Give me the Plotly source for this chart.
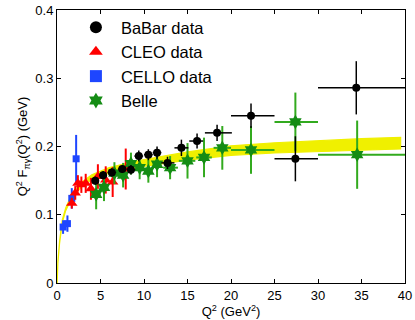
import plotly.graph_objects as go

# Yellow theory band
band_q2 = [0.02, 0.1, 0.3, 0.6, 1.0, 1.5, 2.0, 3.0, 4.0, 6.0, 8.0, 10.0, 15.0, 20.0, 25.0, 30.0, 35.0, 39.5]
band_mid = [0.0, 0.03, 0.06, 0.09, 0.108, 0.122, 0.132, 0.146, 0.155, 0.165, 0.171, 0.176, 0.186, 0.194, 0.198, 0.201, 0.203, 0.205]
band_half = [0.0005, 0.001, 0.0015, 0.002, 0.002, 0.0025, 0.003, 0.003, 0.0035, 0.004, 0.0045, 0.005, 0.006, 0.007, 0.0075, 0.008, 0.0085, 0.0085]

# BaBar
babar_q2 = [4.4, 5.3, 6.3, 7.5, 8.5, 9.4, 10.5, 11.5, 12.7, 14.3, 16.1, 18.4, 22.3, 27.4, 34.4]
babar_f = [0.150, 0.158, 0.162, 0.167, 0.166, 0.186, 0.188, 0.191, 0.176, 0.198, 0.208, 0.220, 0.245, 0.182, 0.286]
babar_err = [0.006, 0.006, 0.006, 0.006, 0.007, 0.008, 0.008, 0.009, 0.009, 0.012, 0.011, 0.012, 0.018, 0.033, 0.039]
babar_xm = [0.4, 0.4, 0.5, 0.5, 0.5, 0.5, 0.5, 0.5, 0.7, 0.8, 0.9, 1.4, 2.3, 2.4, 4.4]
babar_xp = [0.4, 0.4, 0.5, 0.5, 0.5, 0.5, 0.5, 0.5, 0.8, 0.8, 0.7, 1.7, 2.7, 2.6, 5.6]

# CLEO
cleo_q2 = [1.7, 2.1, 2.4, 2.8, 3.3, 3.9, 4.7, 5.6, 6.4, 7.9]
cleo_f = [0.117, 0.132, 0.146, 0.144, 0.146, 0.138, 0.156, 0.151, 0.148, 0.167]
cleo_err = [0.008, 0.010, 0.012, 0.012, 0.014, 0.016, 0.018, 0.020, 0.022, 0.030]

# CELLO
cello_q2 = [0.7, 1.2, 1.7, 2.2]
cello_f = [0.082, 0.087, 0.124, 0.182]
cello_err = [0.010, 0.012, 0.015, 0.035]

# Belle
belle_q2 = [4.5, 5.4, 6.6, 7.6, 8.5, 9.5, 10.5, 11.5, 13.0, 15.0, 16.9, 19.0, 22.3, 27.4, 34.5]
belle_f = [0.130, 0.140, 0.161, 0.158, 0.175, 0.169, 0.164, 0.174, 0.169, 0.179, 0.184, 0.198, 0.195, 0.236, 0.188]
belle_err = [0.022, 0.020, 0.016, 0.018, 0.016, 0.017, 0.017, 0.019, 0.017, 0.026, 0.029, 0.032, 0.035, 0.043, 0.050]
belle_xm = [0.5, 0.5, 0.5, 0.5, 0.5, 0.5, 0.5, 0.5, 0.8, 1.0, 0.9, 1.0, 2.3, 2.4, 4.5]
belle_xp = [0.5, 0.5, 0.5, 0.5, 0.5, 0.5, 0.5, 0.5, 0.9, 0.9, 0.9, 1.0, 2.7, 2.6, 5.5]

# tick labels
x_ticks = [0, 5, 10, 15, 20, 25, 30, 35, 40]
y_ticks = [0, 0.1, 0.2, 0.3, 0.4]
y_ticklabels = ["0", "0.1", "0.2", "0.3", "0.4"]

band_lo = [m - h for m, h in zip(band_mid, band_half)]
band_hi = [m + h for m, h in zip(band_mid, band_half)]

font = "Liberation Sans, Arial"

fig = go.Figure()

fig.add_trace(go.Scatter(
    x=band_q2 + band_q2[::-1], y=band_hi + band_lo[::-1],
    fill="toself", fillcolor="rgb(240,240,0)", mode="lines",
    line=dict(color="rgb(240,240,0)", width=1.2), showlegend=False, hoverinfo="skip"
))

fig.add_trace(go.Scatter(
    x=cello_q2, y=cello_f, mode="markers", name="CELLO data", legendrank=3,
    marker=dict(symbol="square", color="rgb(30,70,255)", size=7),
    error_y=dict(type="data", array=cello_err, color="rgb(30,70,255)", thickness=2, width=0),
    error_x=dict(type="data", array=[0.2] * len(cello_q2), color="rgb(30,70,255)", thickness=2, width=0),
))

fig.add_trace(go.Scatter(
    x=cleo_q2, y=cleo_f, mode="markers", name="CLEO data", legendrank=2,
    marker=dict(symbol="triangle-up", color="rgb(255,0,0)", size=10),
    error_y=dict(type="data", array=cleo_err, color="rgb(255,0,0)", thickness=2, width=0),
    error_x=dict(type="data", array=[0.2] * len(cleo_q2), color="rgb(255,0,0)", thickness=2, width=0),
))

fig.add_trace(go.Scatter(
    x=belle_q2, y=belle_f, mode="markers", name="Belle", legendrank=4,
    marker=dict(symbol="hexagram", color="rgb(20,140,20)", size=11),
    error_y=dict(type="data", array=belle_err, color="rgb(50,170,30)", thickness=2, width=0),
    error_x=dict(type="data", symmetric=False, array=belle_xp, arrayminus=belle_xm,
                 color="rgb(50,170,30)", thickness=2, width=0),
))

fig.add_trace(go.Scatter(
    x=babar_q2, y=babar_f, mode="markers", name="BaBar data", legendrank=1,
    marker=dict(symbol="circle", color="black", size=8),
    error_y=dict(type="data", array=babar_err, color="black", thickness=1.5, width=0),
    error_x=dict(type="data", symmetric=False, array=babar_xp, arrayminus=babar_xm,
                 color="black", thickness=1.5, width=0),
))

axis_style = dict(
    showline=True, linecolor="black", linewidth=1, mirror="ticks",
    ticks="inside", ticklen=4, tickcolor="black", showgrid=False, zeroline=False,
    automargin=False, ticklabeloverflow="allow",
    tickfont=dict(family=font, size=13, color="black"),
)

fig.update_xaxes(range=[0, 40], tickvals=x_ticks, **axis_style,
                 title=dict(text="Q<sup>2</sup> (GeV<sup>2</sup>)", standoff=0,
                            font=dict(family=font, size=13, color="black")))
fig.update_yaxes(range=[0, 0.4], tickvals=y_ticks, ticktext=y_ticklabels, **axis_style,
                 title=dict(text="Q<sup>2</sup> F<sub>πγ</sub>(Q<sup>2</sup>) (GeV)", standoff=4,
                            font=dict(family=font, size=13, color="black")))

fig.update_layout(
    width=415, height=320,
    margin=dict(l=57, r=10, t=10, b=37),
    plot_bgcolor="white", paper_bgcolor="white",
    legend=dict(x=0.04, y=1.0, xanchor="left", yanchor="top", bgcolor="rgba(0,0,0,0)",
                font=dict(family=font, size=16.5, color="black"),
                tracegroupgap=0, itemsizing="constant", itemwidth=40),
)

# drop the default 8px body margin so the figure fills the window
fig.write_html("out.html", config={"displayModeBar": False},
               post_script="document.body.style.margin='0';")
